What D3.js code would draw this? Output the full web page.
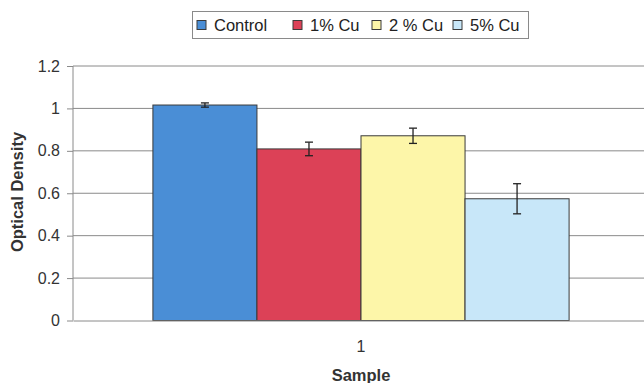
<!DOCTYPE html>
<html><head><meta charset="utf-8">
<script src="https://cdn.jsdelivr.net/npm/d3@7"></script>
<style>body{margin:0;background:#fff}svg{display:block}</style>
</head><body>
<svg id="c" width="644" height="383"></svg>
<script>
const categories = ["1"];
const series = ["Control", "1% Cu", "2 % Cu", "5% Cu"];
const values = [1.016, 0.809, 0.871, 0.574];
const errors = [0.010, 0.032, 0.036, 0.071];
const colors = ["#4a8ed6", "#dc4157", "#fdf6a9", "#c8e7f9"];
const yTicks = [0, 0.2, 0.4, 0.6, 0.8, 1, 1.2];

const svg = d3.select("#c");
const m = {l: 73, r: 649, t: 66, b: 320.5};
const font = "Arial, 'Liberation Sans', sans-serif";

const y = d3.scaleLinear().domain([0, 1.2]).range([m.b, m.t]);
const x0 = d3.scaleBand().domain(categories).range([m.l, m.r]).paddingInner(0).paddingOuter(0.192);
const x1 = d3.scaleBand().domain(series).range([0, x0.bandwidth()]);

// gridlines
svg.append("g").selectAll("line").data(yTicks.slice(1)).join("line")
  .attr("x1", m.l).attr("x2", m.r)
  .attr("y1", d => y(d)).attr("y2", d => y(d))
  .attr("stroke", "#8a8a8a").attr("stroke-width", 1);

// y axis
const ya = svg.append("g").attr("transform", `translate(${m.l},0)`)
  .call(d3.axisLeft(y).tickValues(yTicks).tickSize(6).tickPadding(7).tickFormat(d => d3.format("~g")(d)));
ya.select(".domain").attr("stroke", "#8a8a8a").attr("d", `M0,${m.t}V${m.b}`);
ya.selectAll(".tick line").attr("stroke", "#8a8a8a");
ya.selectAll("text").attr("font-family", font).attr("font-size", 16).attr("fill", "#333");

// bars
const g = svg.append("g");
categories.forEach(c => {
  series.forEach((s, i) => {
    const bx = x0(c) + x1(s);
    g.append("rect").attr("x", bx).attr("y", y(values[i]))
      .attr("width", x1.bandwidth()).attr("height", y(0) - y(values[i]))
      .attr("fill", colors[i]).attr("stroke", "#3a3a3a").attr("stroke-width", 1);
    const cx = bx + x1.bandwidth() / 2;
    const eg = g.append("g").attr("stroke", "#222").attr("stroke-width", 1.3);
    eg.append("line").attr("x1", cx).attr("x2", cx).attr("y1", y(values[i] + errors[i])).attr("y2", y(values[i] - errors[i]));
    [values[i] + errors[i], values[i] - errors[i]].forEach(v =>
      eg.append("line").attr("x1", cx - 4).attr("x2", cx + 4).attr("y1", y(v)).attr("y2", y(v)));
  });
});

// x axis
const xa = svg.append("g").attr("transform", `translate(0,${m.b})`)
  .call(d3.axisBottom(x0).tickSize(0).tickPadding(20));
xa.select(".domain").attr("stroke", "#8a8a8a");
xa.selectAll("text").attr("font-family", font).attr("font-size", 16).attr("fill", "#333");

// axis titles
svg.append("text").attr("x", 361).attr("y", 381).attr("text-anchor", "middle")
  .attr("font-family", font).attr("font-size", 16.5).attr("font-weight", "bold").attr("fill", "#333").text("Sample");
svg.append("text").attr("transform", "translate(23,192) rotate(-90)").attr("text-anchor", "middle")
  .attr("font-family", font).attr("font-size", 16.5).attr("font-weight", "bold").attr("fill", "#333").text("Optical Density");

// legend
const lg = svg.append("g");
lg.append("rect").attr("x", 192.5).attr("y", 11.5).attr("width", 336).attr("height", 27)
  .attr("fill", "#fff").attr("stroke", "#8a8a8a");
const lx = [197, 293, 372, 453];
series.forEach((s, i) => {
  lg.append("rect").attr("x", lx[i]).attr("y", 20.5).attr("width", 9).attr("height", 9)
    .attr("fill", colors[i]).attr("stroke", "#3a3a3a");
  lg.append("text").attr("x", lx[i] + 17).attr("y", 31).attr("font-family", font)
    .attr("font-size", 16.5).attr("fill", "#222").text(s);
});
</script>
</body></html>
